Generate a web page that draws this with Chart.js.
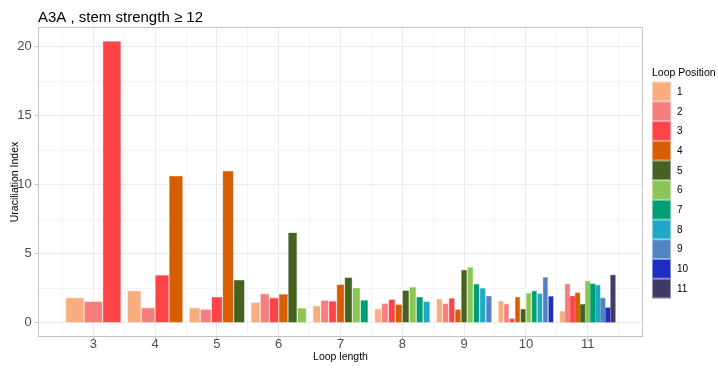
<!DOCTYPE html>
<html><head><meta charset="utf-8">
<script src="https://cdn.jsdelivr.net/npm/chart.js@4/dist/chart.umd.min.js"></script>
<style>html,body{margin:0;padding:0;background:#fff;}#wrap{width:718px;height:368px;}</style>
</head><body><div id="wrap"><canvas id="c" width="718" height="368"></canvas></div>
<script>
const chartTitle = 'A3A , stem strength \u2265 12';
const xTitle = 'Loop length';
const yTitle = 'Uraciliation Index';
const legendTitle = 'Loop Position';

const loopLengths = [3, 4, 5, 6, 7, 8, 9, 10, 11];
const positionLabels = ['1', '2', '3', '4', '5', '6', '7', '8', '9', '10', '11'];
const xTickLabels = [3, 4, 5, 6, 7, 8, 9, 10, 11];
const yTickLabels = [0, 5, 10, 15, 20];

const values3 = [1.83, 1.56, 20.39];
const values4 = [2.34, 1.11, 3.47, 10.65];
const values5 = [1.11, 0.99, 1.90, 11.01, 3.13];
const values6 = [1.49, 2.12, 1.83, 2.09, 6.55, 1.08];
const values7 = [1.25, 1.64, 1.59, 2.79, 3.30, 2.55, 1.66];
const values8 = [1.03, 1.42, 1.71, 1.35, 2.36, 2.60, 1.90, 1.56];
const values9 = [1.76, 1.42, 1.81, 0.99, 3.85, 4.05, 2.84, 2.53, 1.97];
const values10 = [1.61, 1.40, 0.33, 1.90, 1.03, 2.17, 2.34, 2.14, 3.33, 1.95];
const values11 = [0.84, 2.82, 1.95, 2.19, 1.35, 3.04, 2.84, 2.75, 1.81, 1.11, 3.47];
const seriesByLength = [values3, values4, values5, values6, values7, values8, values9, values10, values11];

const posColors = ['#F8AD7E', '#F67E7E', '#FF4447', '#D55E00', '#456221', '#8BC554', '#009E73', '#1EA9C6', '#5083C4', '#1E2EC4', '#3F3B66'];

const FONT = "'Liberation Sans', Arial, sans-serif";
function rgba(hex, a) {
  const n = parseInt(hex.slice(1), 16);
  return `rgba(${(n >> 16) & 255},${(n >> 8) & 255},${n & 255},${a})`;
}

// ggplot-like dodge (total width 0.9) and 5% expansion
const DODGE = 0.9;
const allVals = seriesByLength.flat();
const vmax = Math.max(...allVals);
const yMin = -0.05 * vmax, yMax = 1.05 * vmax;
const lo = Math.min(...loopLengths) - DODGE / 2, hi = Math.max(...loopLengths) + DODGE / 2;
const xMin = lo - 0.05 * (hi - lo), xMax = hi + 0.05 * (hi - lo);
const maxN = Math.max(...seriesByLength.map(a => a.length));

const xGrid = [];
for (let v = Math.floor(xMin * 2) / 2; v <= xMax; v += 0.5) if (v >= xMin) xGrid.push(v);
const yGrid = [];
for (let v = 0; v <= yMax; v += 2.5) yGrid.push(v);

const datasets = loopLengths.map((L, k) => {
  const vals = seriesByLength[k];
  const n = vals.length;
  const w = DODGE / n;
  return {
    label: 'Loop length ' + L,
    data: vals.map((v, i) => ({ x: L + (i - (n - 1) / 2) * w, y: v })),
    backgroundColor: vals.map((v, i) => posColors[i]),
    borderColor: vals.map((v, i) => rgba(posColors[i], 0.5)),
    borderWidth: 0.6,
    grouped: false,
    categoryPercentage: 1,
    barPercentage: maxN / n
  };
});

const decor = {
  id: 'decor',
  afterDraw(chart) {
    const { ctx, chartArea: a } = chart;
    ctx.save();
    ctx.strokeStyle = '#C4C4C4';
    ctx.lineWidth = 1;
    ctx.strokeRect(Math.round(a.left) + 0.5, Math.round(a.top) + 0.5, Math.round(a.right - a.left) - 1, Math.round(a.bottom - a.top) - 1);
    ctx.fillStyle = '#000';
    ctx.textAlign = 'left';
    ctx.textBaseline = 'alphabetic';
    ctx.font = `15px ${FONT}`;
    ctx.fillText(chartTitle, a.left, 21.5);
    const lx = a.right + 9, ly0 = 81.7, kw = 19, kh = 19.7;
    ctx.font = `10.5px ${FONT}`;
    ctx.fillText(legendTitle, lx, 75.7);
    positionLabels.forEach((lab, i) => {
      const y = ly0 + i * kh;
      ctx.fillStyle = posColors[i];
      ctx.fillRect(lx, y, kw, kh);
      ctx.strokeStyle = 'rgba(255,255,255,0.45)';
      ctx.strokeRect(lx + 0.5, y + 0.5, kw - 1, kh - 1);
      ctx.fillStyle = '#000';
      ctx.font = `10px ${FONT}`;
      ctx.textBaseline = 'middle';
      ctx.fillText(lab, lx + 25, y + kh / 2 + 0.5);
    });
    ctx.restore();
  }
};

new Chart(document.getElementById('c'), {
  type: 'bar',
  data: { datasets },
  options: {
    responsive: false,
    animation: false,
    devicePixelRatio: 1,
    layout: { padding: { top: 27, right: 75, left: 0, bottom: 0 } },
    plugins: { legend: { display: false }, tooltip: { enabled: false }, title: { display: false } },
    scales: {
      x: {
        type: 'linear', min: xMin, max: xMax, offset: false,
        afterBuildTicks: s => { s.ticks = xGrid.map(v => ({ value: v })); },
        afterFit: s => { s.height = 31; },
        border: { display: false },
        grid: {
          offset: false, lineWidth: 1, tickLength: 3,
          color: c => (xTickLabels.includes(c.tick && c.tick.value) ? '#EBEBEB' : '#F4F4F4'),
          tickColor: c => (xTickLabels.includes(c.tick && c.tick.value) ? '#BEBEBE' : 'rgba(0,0,0,0)')
        },
        ticks: {
          autoSkip: false, maxRotation: 0, minRotation: 0, padding: -2, color: '#4D4D4D',
          font: { family: FONT, size: 13, lineHeight: 1 },
          callback: v => (xTickLabels.includes(v) ? String(v) : '')
        },
        title: { display: true, text: xTitle, color: '#000', font: { family: FONT, size: 10.5 }, padding: { top: 0, bottom: 4.7 } }
      },
      y: {
        type: 'linear', min: yMin, max: yMax,
        afterBuildTicks: s => { s.ticks = yGrid.map(v => ({ value: v })); },
        afterFit: s => { s.width = 38; },
        border: { display: false },
        grid: {
          lineWidth: 1, tickLength: 3,
          color: c => (yTickLabels.includes(c.tick && c.tick.value) ? '#EBEBEB' : '#F4F4F4'),
          tickColor: c => (yTickLabels.includes(c.tick && c.tick.value) ? '#BEBEBE' : 'rgba(0,0,0,0)')
        },
        ticks: {
          autoSkip: false, padding: 3.3, color: '#4D4D4D',
          font: { family: FONT, size: 13, lineHeight: 1 },
          callback: v => (yTickLabels.includes(v) ? String(v) : '')
        },
        title: { display: true, text: yTitle, color: '#000', font: { family: FONT, size: 10.5 }, padding: { top: 8.7, bottom: 0 } }
      }
    }
  },
  plugins: [decor]
});
</script>
</body></html>
